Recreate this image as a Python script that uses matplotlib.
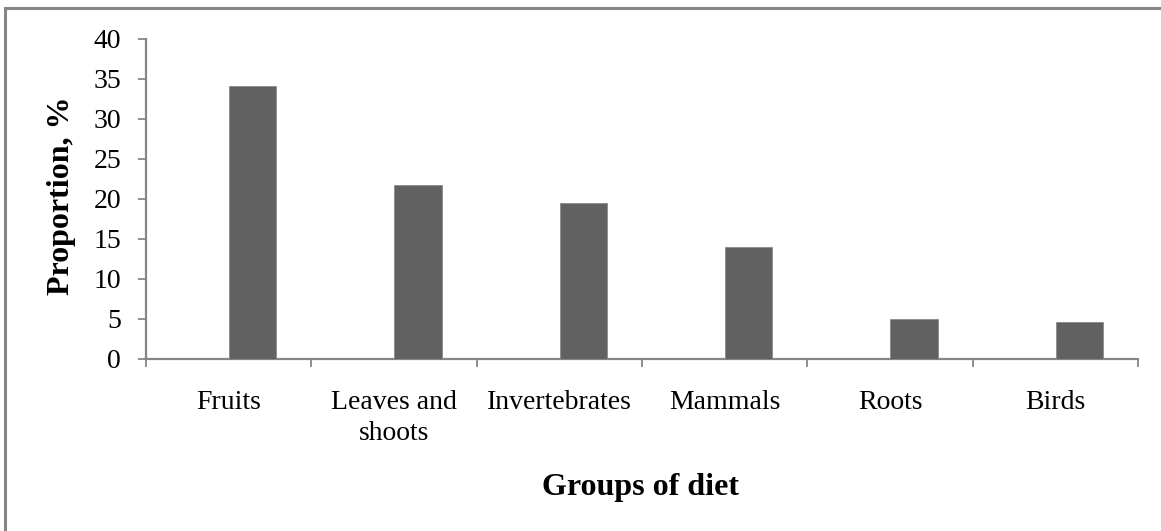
import numpy as np
import matplotlib
matplotlib.use("Agg")
import matplotlib.pyplot as plt
from matplotlib.lines import Line2D

# diet data
groups = ['Fruits', 'Leaves and\nshoots', 'Invertebrates', 'Mammals', 'Roots', 'Birds']
proportion = [34.1, 21.7, 19.5, 14.0, 5.0, 4.6]

plt.rcParams['font.family'] = ['Liberation Serif', 'DejaVu Serif']

W, H = 1161, 531
fig = plt.figure(figsize=(W / 100, H / 100), dpi=100)

# axes placed in pixel terms
left, right, top, bottom = 146, 1138, 39, 359
ax = fig.add_axes([left / W, 1 - bottom / H, (right - left) / W, (bottom - top) / H])

x = np.arange(len(groups))
ax.bar(x + 0.145, proportion, width=0.285, color='#616161', edgecolor='#8a8a8a', linewidth=0.6, zorder=3)

ax.set_xlim(-0.5, len(groups) - 0.5)
ax.set_ylim(0, 40)
ax.set_yticks(range(0, 41, 5))

# ticks between categories, labels centered
ax.set_xticks(np.arange(-0.5, len(groups), 1.0))
ax.set_xticklabels([])
ax.set_xticks(x, minor=True)
ax.set_xticklabels(groups, minor=True, fontsize=20, linespacing=1.35)
ax.tick_params(axis='x', which='minor', length=0, pad=22)
ax.tick_params(axis='x', which='major', length=6, width=1.3, color='#868686', direction='out')
ax.tick_params(axis='y', length=6, width=1.3, color='#868686', direction='out', labelsize=20, pad=12)

for s in ['top', 'right']:
    ax.spines[s].set_visible(False)
for s in ['left', 'bottom']:
    ax.spines[s].set_color('#868686')
    ax.spines[s].set_linewidth(1.6)

fig.text(640 / W, 1 - 487 / H, 'Groups of diet', fontsize=23, fontweight='bold', ha='center', va='center')
fig.text(62 / W, 1 - 196 / H, 'Proportion, %', fontsize=23, fontweight='bold', rotation=90, ha='center', va='center')

# outer frame (left and top edges visible)
fig.add_artist(Line2D([5 / W, 5 / W], [0, 1 - 8 / H], transform=fig.transFigure, color='#868686', lw=2.2))
fig.add_artist(Line2D([5 / W, 1], [1 - 8 / H, 1 - 8 / H], transform=fig.transFigure, color='#868686', lw=2.2))

fig.savefig('out.png', dpi=100)
